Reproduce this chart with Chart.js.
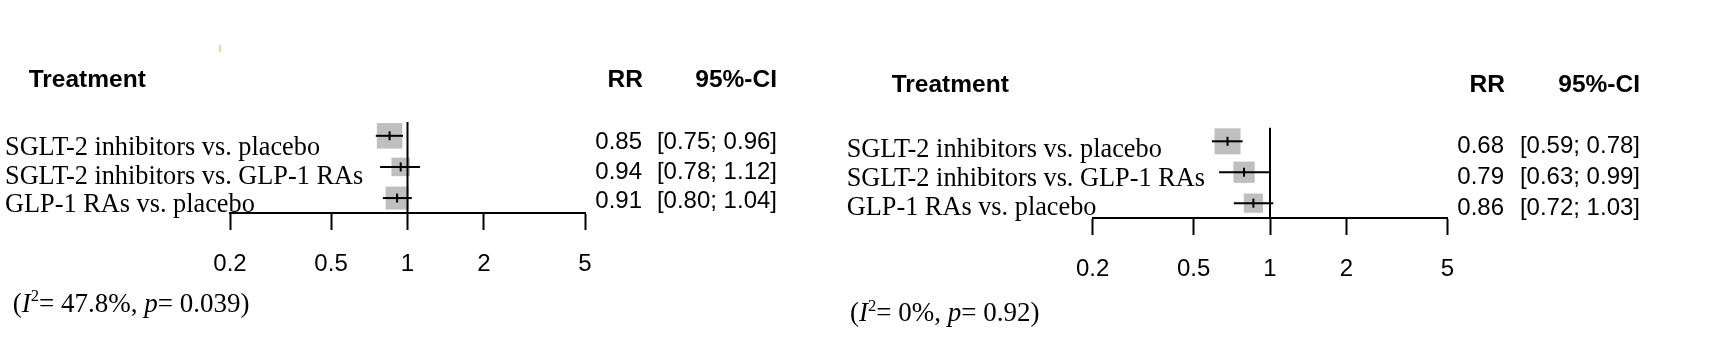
<!DOCTYPE html>
<html><head><meta charset="utf-8">
<script src="https://cdn.jsdelivr.net/npm/chart.js@4.4.1/dist/chart.umd.min.js"></script>
<style>
html,body{margin:0;padding:0;background:#fff;}
#wrap{position:relative;width:1725px;height:356px;overflow:hidden;background:#fff;}
canvas{position:absolute;left:0;top:0;}
#mark{position:absolute;left:219px;top:45px;width:2px;height:7px;background:#fbd48a;}
</style></head><body>
<div id="wrap"><canvas id="c1" width="1725" height="356"></canvas><canvas id="c2" width="1725" height="356"></canvas><div id="mark"></div></div>
<script>
// ---- data ----
const treatments = ["SGLT-2 inhibitors vs. placebo", "SGLT-2 inhibitors vs. GLP-1 RAs", "GLP-1 RAs vs. placebo"];
const rrLeft = [0.85, 0.94, 0.91];
const loLeft = [0.75, 0.78, 0.80];
const hiLeft = [0.96, 1.12, 1.04];
const rrRight = [0.68, 0.79, 0.86];
const loRight = [0.59, 0.63, 0.72];
const hiRight = [0.78, 0.99, 1.03];
const tickValues = [0.2, 0.5, 1, 2, 5];
const tickLabels = ["0.2", "0.5", "1", "2", "5"];
const i2Values = ["47.8%", "0%"];
const pValues = ["0.039", "0.92"];

// ---- layout / style (not data) ----
const layouts = [
  { id: 'c1', axisL: 230, axisR: 585, top: 120.25, bottom: 213, sq: [25.5, 18.5, 23],
    headerY: 87.3, treatX: 28.7, rrRight: 643, ciRight: 777,
    labelX: 5, labelBase: 155.3, labelPitch: 28.4,
    valBase: 149.3, valPitch: 29.5, valRight: 642, ciValRight: 777,
    statX: 12.7, statBase: 311.5 },
  { id: 'c2', axisL: 1092.7, axisR: 1447.3, top: 125.85, bottom: 218, sq: [26, 21.3, 19.2],
    headerY: 91.9, treatX: 891.7, rrRight: 1505, ciRight: 1640,
    labelX: 846.7, labelBase: 156.6, labelPitch: 29,
    valBase: 152.7, valPitch: 31.1, valRight: 1504, ciValRight: 1640,
    statX: 850, statBase: 321 }
];
const W = 1725, H = 356, AXIS_H = 70;
const SANS = '"Liberation Sans", Arial, sans-serif';
const SERIF = '"Liberation Serif", "Times New Roman", serif';

const tablePlugin = {
  id: 'forestTable',
  afterDraw(chart, args, o) {
    const ctx = chart.ctx, L = o.layout;
    ctx.save();
    ctx.fillStyle = '#000';
    ctx.textBaseline = 'alphabetic';
    ctx.font = 'bold 24.5px ' + SANS;
    ctx.textAlign = 'left';
    ctx.fillText('Treatment', L.treatX, L.headerY);
    ctx.textAlign = 'right';
    ctx.fillText('RR', L.rrRight, L.headerY);
    ctx.fillText('95%-CI', L.ciRight, L.headerY);
    ctx.font = '26.3px ' + SERIF;
    ctx.textAlign = 'left';
    o.labels.forEach((t, i) => ctx.fillText(t, L.labelX, L.labelBase + i * L.labelPitch));
    ctx.font = '24px ' + SANS;
    ctx.textAlign = 'right';
    o.rr.forEach((v, i) => {
      const y = L.valBase + i * L.valPitch;
      ctx.fillText(v.toFixed(2), L.valRight, y);
      ctx.fillText('[' + o.lo[i].toFixed(2) + '; ' + o.hi[i].toFixed(2) + ']', L.ciValRight, y);
    });
    // heterogeneity
    ctx.textAlign = 'left';
    const fs = 27;
    const segs = [
      ['(', fs + 'px ' + SERIF, 0],
      ['I', 'italic ' + fs + 'px ' + SERIF, 0],
      ['2', (fs * 0.62) + 'px ' + SERIF, -fs * 0.38],
      ['= ' + o.i2 + ', ', fs + 'px ' + SERIF, 0],
      ['p', 'italic ' + fs + 'px ' + SERIF, 0],
      ['= ' + o.p + ')', fs + 'px ' + SERIF, 0]
    ];
    let x = L.statX;
    segs.forEach(([t, f, dy]) => {
      ctx.font = f;
      ctx.fillText(t, x, L.statBase + dy);
      x += ctx.measureText(t).width;
    });
    ctx.restore();
  }
};

function makeChart(L, rr, lo, hi, i2, p) {
  const datasets = [];
  rr.forEach((v, i) => {
    datasets.push({ data: [{ x: lo[i], y: i + 1 }, { x: hi[i], y: i + 1 }], showLine: true,
      borderColor: '#000', borderWidth: 2, pointRadius: 0, order: 1, clip: false });
  });
  datasets.push({ data: rr.map((v, i) => ({ x: v, y: i + 1 })), pointStyle: 'line', rotation: 90,
    pointRadius: 4.5, borderColor: '#000', borderWidth: 2, order: 0, clip: false });
  datasets.push({ data: [{ x: 1, y: 0.56 }, { x: 1, y: 3.48 }], showLine: true,
    borderColor: '#000', borderWidth: 2, pointRadius: 0, order: 2, clip: false });
  datasets.push({ data: rr.map((v, i) => ({ x: v, y: i + 1 })), pointStyle: 'rect',
    pointRadius: L.sq.map(s => s / Math.SQRT2), backgroundColor: '#bfbfbf', borderWidth: 0, order: 3, clip: false });

  return new Chart(document.getElementById(L.id), {
    type: 'scatter',
    data: { datasets },
    plugins: [tablePlugin],
    options: {
      responsive: false, animation: false, events: [], devicePixelRatio: 1,
      layout: { padding: { left: L.axisL, right: W - L.axisR, top: L.top, bottom: H - L.bottom - AXIS_H } },
      plugins: {
        legend: { display: false }, tooltip: { enabled: false },
        forestTable: { layout: L, labels: treatments, rr, lo, hi, i2, p }
      },
      scales: {
        x: {
          type: 'logarithmic', min: 0.2, max: 5, position: 'bottom',
          afterBuildTicks: s => { s.ticks = tickValues.map(v => ({ value: v })); },
          afterFit: s => { s.height = AXIS_H; },
          ticks: { autoSkip: false, maxRotation: 0, minRotation: 0, padding: 20, color: '#000',
            font: { family: SANS, size: 24 }, callback: (v, i) => tickLabels[i] },
          grid: { drawOnChartArea: false, drawTicks: true, tickLength: 17, tickWidth: 2, tickColor: '#000' },
          border: { display: true, color: '#000', width: 2 }
        },
        y: { type: 'linear', min: 0.5, max: 3.48, reverse: true, display: false }
      }
    }
  });
}

makeChart(layouts[0], rrLeft, loLeft, hiLeft, i2Values[0], pValues[0]);
makeChart(layouts[1], rrRight, loRight, hiRight, i2Values[1], pValues[1]);
</script>
</body></html>
